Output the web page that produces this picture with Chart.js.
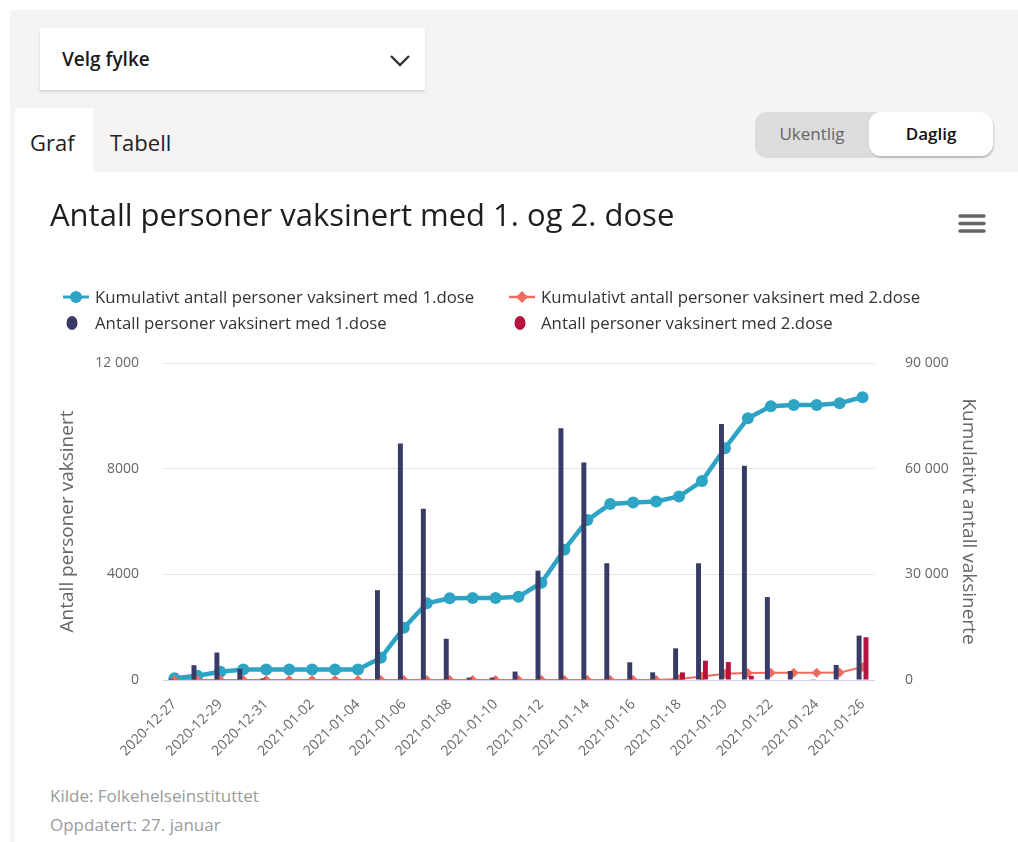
<!DOCTYPE html>
<html>
<head>
<meta charset="utf-8">
<script src="https://cdn.jsdelivr.net/npm/chart.js@4.4.1/dist/chart.umd.min.js"></script>
<style>
  html, body { margin:0; padding:0; }
  body { width:1018px; height:842px; position:relative; overflow:hidden; background:#fff; font-family:"Open Sans", Lato, sans-serif; }
  .abs { position:absolute; }
  .lg { position:absolute; font-family:"Open Sans", sans-serif; font-size:16.8px; color:#333; white-space:nowrap; line-height:20px; }
  .src { position:absolute; left:50px; font-family:"Open Sans", sans-serif; font-size:17px; color:#9b9b9b; white-space:nowrap; line-height:22px; }
</style>
</head>
<body>
<div class="abs" style="left:10px;top:10px;width:1008px;height:162px;background:#f5f4f2"></div>
<div class="abs" style="left:10px;top:172px;width:5px;height:670px;background:#f5f4f2"></div>

<div class="abs" style="left:40px;top:28px;width:385px;height:62px;background:#fff;box-shadow:0 2px 3px rgba(0,0,0,0.13)">
  <div class="abs" style="left:22px;top:0;line-height:62px;font-size:19px;font-weight:600;color:#1a1a1a;">Velg fylke</div>
  <svg class="abs" style="left:349px;top:26px" width="22" height="14" viewBox="0 0 22 14"><polyline points="2,2 11,11 20,2" fill="none" stroke="#333" stroke-width="2.4"/></svg>
</div>

<div class="abs" style="left:15px;top:108px;width:78px;height:64px;background:#fff"></div>
<div class="abs" style="left:30px;top:127px;font-size:22px;color:#222;line-height:30px">Graf</div>
<div class="abs" style="left:110px;top:127px;font-size:22px;color:#222;line-height:30px">Tabell</div>

<div class="abs" style="left:755px;top:112px;width:238px;height:46px;background:#dcdcdc;border-radius:12px"></div>
<div class="abs" style="left:755px;top:112px;width:114px;height:46px;line-height:44px;text-align:center;font-size:17px;color:#666">Ukentlig</div>
<div class="abs" style="left:869px;top:112px;width:124px;height:44px;line-height:44px;text-align:center;font-size:17px;font-weight:600;color:#111;background:#fff;border-radius:12px;box-shadow:1px 2px 2px rgba(0,0,0,0.15)">Daglig</div>

<div class="abs" style="left:15px;top:172px;width:1003px;height:608px">
  <canvas id="c"></canvas>
</div>

<svg class="abs" style="left:957px;top:212px" width="30" height="24" viewBox="0 0 30 24">
  <line x1="3" y1="4" x2="27" y2="4" stroke="#666" stroke-width="3.5" stroke-linecap="round"/>
  <line x1="3" y1="11.5" x2="27" y2="11.5" stroke="#666" stroke-width="3.5" stroke-linecap="round"/>
  <line x1="3" y1="19" x2="27" y2="19" stroke="#666" stroke-width="3.5" stroke-linecap="round"/>
</svg>

<svg class="abs" style="left:62px;top:289px" width="28" height="16"><line x1="1" y1="8" x2="27" y2="8" stroke="#2ea4c5" stroke-width="3"/><circle cx="14" cy="8" r="6" fill="#2ea4c5"/></svg>
<div class="lg" style="left:95px;top:287px">Kumulativt antall personer vaksinert med 1.dose</div>
<svg class="abs" style="left:508px;top:289px" width="28" height="16"><line x1="1" y1="8" x2="27" y2="8" stroke="#ef6b5d" stroke-width="2.5"/><polygon points="14,2 20,8 14,14 8,8" fill="#ef6b5d"/></svg>
<div class="lg" style="left:541px;top:287px">Kumulativt antall personer vaksinert med 2.dose</div>
<svg class="abs" style="left:64px;top:314px" width="16" height="18"><ellipse cx="8" cy="9" rx="5.5" ry="7" fill="#383b65"/></svg>
<div class="lg" style="left:95px;top:313px">Antall personer vaksinert med 1.dose</div>
<svg class="abs" style="left:512px;top:314px" width="16" height="18"><ellipse cx="8" cy="9" rx="5.5" ry="7" fill="#b8133f"/></svg>
<div class="lg" style="left:541px;top:313px">Antall personer vaksinert med 2.dose</div>

<div class="src" style="top:785px">Kilde: Folkehelseinstituttet</div>
<div class="src" style="top:814px">Oppdatert: 27. januar</div>

<script>
const dates = [
  "2020-12-27","2020-12-28","2020-12-29","2020-12-30","2020-12-31",
  "2021-01-01","2021-01-02","2021-01-03","2021-01-04","2021-01-05",
  "2021-01-06","2021-01-07","2021-01-08","2021-01-09","2021-01-10",
  "2021-01-11","2021-01-12","2021-01-13","2021-01-14","2021-01-15",
  "2021-01-16","2021-01-17","2021-01-18","2021-01-19","2021-01-20",
  "2021-01-21","2021-01-22","2021-01-23","2021-01-24","2021-01-25",
  "2021-01-26"
];
const dose1Daily = [
  50, 560, 1040, 420, 60,
  20, 20, 20, 20, 3400,
  8950, 6480, 1560, 90, 90,
  320, 4140, 9530, 8230, 4420,
  670, 290, 1200, 4420, 9690,
  8110, 3140, 340, 30, 570,
  1680
];
const dose2Daily = [
  0, 0, 0, 0, 0,
  0, 0, 0, 0, 0,
  0, 0, 0, 0, 0,
  0, 0, 0, 0, 0,
  0, 0, 290, 730, 680,
  160, 0, 0, 0, 0,
  1620
];
const dose1Cumulative = [
  500, 1200, 2350, 2950, 2960,
  2970, 2980, 2990, 3000, 6300,
  14800, 21800, 23200, 23250, 23300,
  23650, 27600, 37000, 45400, 49950,
  50400, 50700, 52100, 56500, 65800,
  74300, 77700, 78050, 78100, 78600,
  80300
];
const dose2Cumulative = [
  0, 0, 0, 0, 0,
  0, 0, 0, 0, 0,
  0, 0, 0, 0, 0,
  0, 0, 0, 0, 0,
  0, 0, 290, 1000, 1800,
  2000, 2050, 2050, 2050, 2100,
  3700
];
const leftTicks = [0, 4000, 8000, 12000];
const rightTicks = [0, 30000, 60000, 90000];
const seriesNames = [
  "Kumulativt antall personer vaksinert med 1.dose",
  "Kumulativt antall personer vaksinert med 2.dose",
  "Antall personer vaksinert med 1.dose",
  "Antall personer vaksinert med 2.dose"
];

function fmt(v) {
  const s = String(v);
  return v >= 10000 ? s.replace(/\B(?=(\d{3})+(?!\d))/g, " ") : s;
}

const tickFont = { family: "'Open Sans', sans-serif", size: 14 };
const titleFont = { family: "'Open Sans', sans-serif", size: 19 };

new Chart(document.getElementById("c"), {
  type: "bar",
  data: {
    labels: dates,
    datasets: [
      { type: "line", label: seriesNames[0], data: dose1Cumulative, yAxisID: "y1",
        borderColor: "#2ea4c5", backgroundColor: "#2ea4c5", borderWidth: 4.5,
        pointRadius: 6, pointHoverRadius: 6, pointBorderWidth: 0, tension: 0, order: 2 },
      { type: "line", label: seriesNames[1], data: dose2Cumulative, yAxisID: "y1",
        borderColor: "#ef6b5d", backgroundColor: "#ef6b5d", borderWidth: 2,
        pointStyle: "rectRot", pointRadius: 5, pointHoverRadius: 5, pointBorderWidth: 0, tension: 0, order: 1 },
      { type: "bar", label: seriesNames[2], data: dose1Daily, yAxisID: "y",
        backgroundColor: "#383b65", categoryPercentage: 0.6, barPercentage: 0.72, order: 0 },
      { type: "bar", label: seriesNames[3], data: dose2Daily, yAxisID: "y",
        backgroundColor: "#b8133f", categoryPercentage: 0.6, barPercentage: 0.72, order: 0 }
    ]
  },
  options: {
    responsive: true,
    maintainAspectRatio: false,
    animation: false,
    layout: { padding: { left: 35, right: 0, top: 0, bottom: 0 } },
    plugins: {
      legend: { display: false },
      tooltip: { enabled: false },
      title: {
        display: true,
        text: "Antall personer vaksinert med 1. og 2. dose",
        align: "start",
        color: "#1e1e1e",
        font: { family: "'Open Sans', sans-serif", size: 31, weight: "normal", lineHeight: 1.2 },
        padding: { top: 26.4, bottom: 127.4 }
      }
    },
    scales: {
      x: {
        type: "category",
        offset: true,
        grid: { display: false },
        border: { display: true, color: "#ccd6eb", width: 1 },
        ticks: {
          autoSkip: false, maxRotation: 45, minRotation: 45, padding: 8,
          color: "#666", font: tickFont,
          callback: function(v, i) { return i % 2 === 0 ? dates[i] : ""; }
        },
        afterFit: function(s) { s.height = 100; }
      },
      y: {
        position: "left",
        min: leftTicks[0], max: leftTicks[leftTicks.length - 1],
        afterBuildTicks: function(s) { s.ticks = leftTicks.map(v => ({ value: v })); },
        grid: { color: "#e6e6e6", lineWidth: 1, drawTicks: false },
        border: { display: false },
        ticks: { padding: 24, color: "#666", font: tickFont, callback: v => fmt(v) },
        title: { display: true, text: "Antall personer vaksinert", color: "#666", font: titleFont, padding: { top: 6, bottom: 0 } },
        afterFit: function(s) { s.width = 113; }
      },
      y1: {
        position: "right",
        min: rightTicks[0], max: rightTicks[rightTicks.length - 1],
        afterBuildTicks: function(s) { s.ticks = rightTicks.map(v => ({ value: v })); },
        grid: { display: false, drawOnChartArea: false },
        border: { display: false },
        ticks: { padding: 23, color: "#666", font: tickFont, callback: v => fmt(v) },
        title: { display: true, text: "Kumulativt antall vaksinerte", color: "#666", font: titleFont, padding: { top: 38, bottom: 0 } },
        afterFit: function(s) { s.width = 144; }
      }
    }
  }
});
</script>
</body>
</html>
